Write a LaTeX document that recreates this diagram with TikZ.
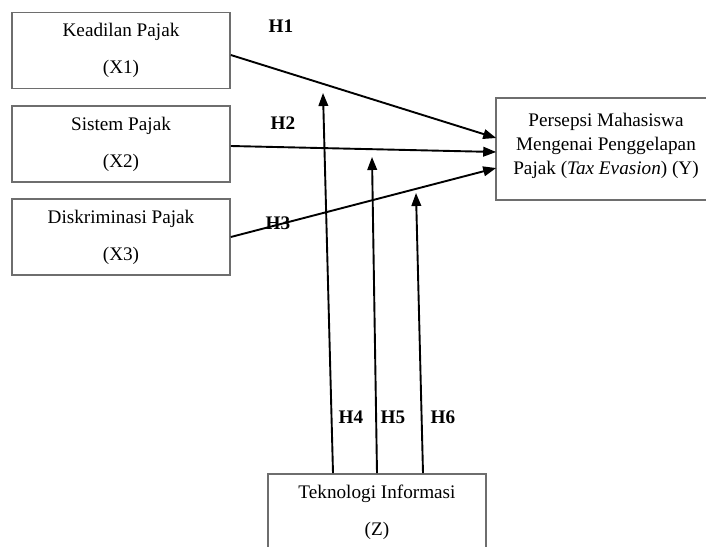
\documentclass[tikz,border=0pt]{standalone}
\usepackage{fontspec}
\setmainfont{Liberation Serif}
\usepackage{xcolor}
\usetikzlibrary{arrows.meta}
\definecolor{BoxLine}{RGB}{110,110,110}

\tikzset{
  varbox/.style={draw=BoxLine,line width=0.8pt,minimum width=109pt,
                 minimum height=38pt,inner sep=0pt,align=center,
                 font=\fontsize{9.6}{18.5}\selectfont},
  hyp/.style={font=\fontsize{9.6}{11}\selectfont\bfseries},
  link/.style={line width=0.95pt,-{Triangle[length=6.5pt,width=4.8pt]}}
}

\begin{document}
\begin{tikzpicture}[x=0.5pt,y=-0.5pt]
  \useasboundingbox (0,0) rectangle (706,546);
  \clip (0,0) rectangle (706,546);

  % variables
  \node[varbox] (x1) at (121,50.5) {Keadilan Pajak\\(X1)};
  \node[varbox] (x2) at (121,144) {Sistem Pajak\\(X2)};
  \node[varbox] (x3) at (121,237) {Diskriminasi Pajak\\(X3)};
  \node[varbox,draw=none,minimum height=50pt,
        font=\fontsize{9.6}{12}\selectfont]
       (y) at (606,146) {Persepsi Mahasiswa\\Mengenai Penggelapan\\Pajak (\textit{Tax Evasion}) (Y)};
  \draw[BoxLine,line width=0.8pt] ([yshift=-1.5pt]y.north west) rectangle ([xshift=10pt,yshift=-1.5pt]y.south east);
  \node[varbox] (z) at (377,512) {Teknologi Informasi\\(Z)};

  % moderation targets
  \coordinate (t4) at (323,93);
  \coordinate (t5) at (372,157);
  \coordinate (t6) at (416,193);

  % direct paths
  \draw[link] ([yshift=-2.25pt]x1.east) -- ([yshift=4pt]y.west);
  \draw[link] ([yshift=-1pt]x2.east) -- ([yshift=-3pt]y.west);
  \draw[link] (x3.east) -- ([yshift=-11pt]y.west);

  % moderating paths
  \draw[link] ([xshift=-22pt]z.north) -- (t4);
  \draw[link] (z.north) -- (t5);
  \draw[link] ([xshift=23pt]z.north) -- (t6);

  % hypotheses
  \node[hyp] (h1) at (281,26) {H1};
  \node[hyp] (h2) at (283,123) {H2};
  \node[hyp] (h3) at (278,223) {H3};
  \node[hyp] (h4) at (351,417) {H4};
  \node[hyp] (h5) at (393,417) {H5};
  \node[hyp] (h6) at (443,417) {H6};
\end{tikzpicture}
\end{document}
